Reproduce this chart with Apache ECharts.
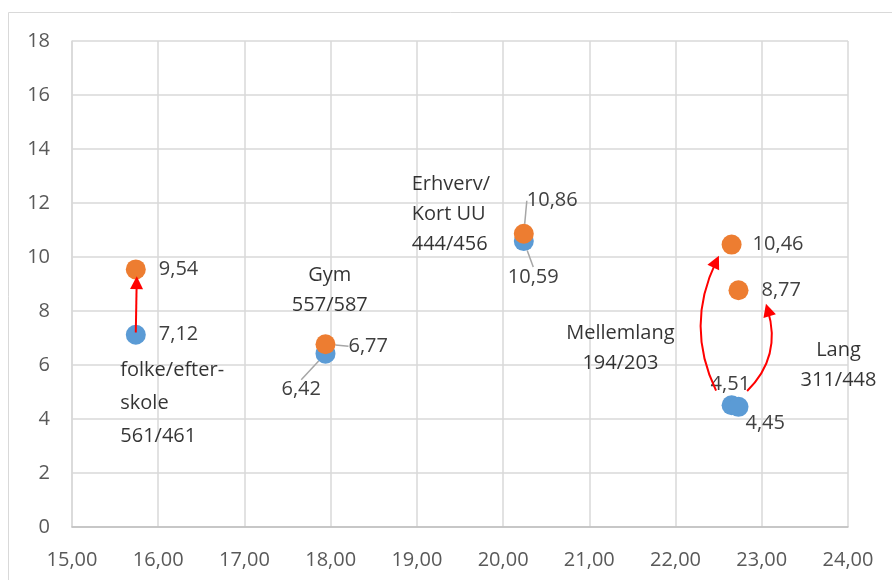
<!DOCTYPE html>
<html>
<head>
<meta charset="utf-8">
<script src="https://cdn.jsdelivr.net/npm/echarts@6/dist/echarts.min.js"></script>
<style>
  html, body { margin: 0; padding: 0; background: #fff; }
  #chart { width: 892px; height: 580px; }
</style>
</head>
<body>
<div id="chart"></div>
<script>
// uddannelsesgrupper (x = fælles x-værdi)
const groups = ['folke/efter-\nskole\n561/461', 'Gym\n557/587', 'Erhverv/\nKort UU\n444/456', 'Mellemlang\n194/203', 'Lang\n311/448']
const xVals = [15.74, 17.94, 20.24, 22.65, 22.73]
const blueY = [7.12, 6.42, 10.59, 4.51, 4.45]
const orangeY = [9.54, 6.77, 10.86, 10.46, 8.77]

// hvor gruppenavnene står (data-enheder)
const groupLabelPos = [[15.56, 4.6], [17.99, 8.75], [18.94, 11.6], [21.36, 6.62], [23.89, 6.0]]
const groupLabelAlign = ['left', 'center', 'left', 'center', 'center']

// røde pile: fra -> til (data-enheder) og krumning
const arrowFrom = [[15.74, 7.2], [22.47, 5.05], [22.83, 5.04]]
const arrowTo = [[15.75, 9.05], [22.47, 9.83], [23.07, 8.04]]
const arrowCurve = [0, 0.24, -0.3]

// label forskydning (px) og om der skal være en hjælpelinje
const blueShift = [[0, 0], [-67, 36], [-39, 36], [-44, -21], [-16, 16]]
const blueLine = [false, true, true, false, false]
const orangeShift = [[0, 0], [0, 2], [-20, -33], [-2, 0], [0, 0]]
const orangeLine = [false, true, true, false, false]

const fmt = v => v.toFixed(2).replace('.', ',')
const chart = echarts.init(document.getElementById('chart'))

const dataLabel = {
  show: true,
  position: 'right',
  distance: 13,
  color: '#404040',
  fontSize: 20,
  fontFamily: 'Open Sans',
  formatter: p => fmt(p.value[1])
}

const pointData = (ys, lines) => xVals.map((x, i) => ({
  value: [x, ys[i]],
  labelLine: { show: lines[i] }
}))

chart.setOption({
  animation: false,
  graphic: [{
    type: 'rect',
    shape: { x: 8.5, y: 12.5, width: 900, height: 600 },
    style: { fill: 'none', stroke: '#d9d9d9', lineWidth: 1 },
    silent: true
  }],
  grid: { left: 72, right: 44, top: 41, bottom: 53 },
  xAxis: {
    type: 'value',
    min: 15,
    max: 24,
    interval: 1,
    axisLine: { show: true, lineStyle: { color: '#bfbfbf', width: 1.5 } },
    axisTick: { show: false },
    splitLine: { lineStyle: { color: '#d9d9d9', width: 1.5 } },
    axisLabel: {
      margin: 23,
      color: '#595959',
      fontSize: 20,
      fontFamily: 'Open Sans',
      formatter: v => fmt(v)
    }
  },
  yAxis: {
    type: 'value',
    min: 0,
    max: 18,
    interval: 2,
    axisLine: { show: true, lineStyle: { color: '#d9d9d9', width: 1.5 } },
    axisTick: { show: false },
    splitLine: { lineStyle: { color: '#d9d9d9', width: 1.5 } },
    axisLabel: {
      margin: 22,
      color: '#595959',
      fontSize: 20,
      fontFamily: 'Open Sans'
    }
  },
  series: [
    {
      name: 'før',
      type: 'scatter',
      symbolSize: 20,
      itemStyle: { color: '#5b9bd5', opacity: 1 },
      data: pointData(blueY, blueLine),
      label: dataLabel,
      labelLine: { lineStyle: { color: '#a6a6a6', width: 1.5 } },
      labelLayout: p => ({ dx: blueShift[p.dataIndex][0], dy: blueShift[p.dataIndex][1] })
    },
    {
      name: 'efter',
      type: 'scatter',
      symbolSize: 20,
      itemStyle: { color: '#ed7d31', opacity: 1 },
      data: pointData(orangeY, orangeLine),
      label: dataLabel,
      labelLine: { lineStyle: { color: '#a6a6a6', width: 1.5 } },
      labelLayout: p => ({ dx: orangeShift[p.dataIndex][0], dy: orangeShift[p.dataIndex][1] })
    },
    {
      name: 'grupper',
      type: 'scatter',
      symbolSize: 0,
      silent: true,
      data: groupLabelPos.map((pos, i) => ({
        value: pos,
        label: {
          align: groupLabelAlign[i],
          lineHeight: i === 0 ? 33 : 30
        }
      })),
      label: {
        show: true,
        position: 'inside',
        color: '#000',
        fontSize: 20,
        fontFamily: 'Open Sans',
        formatter: p => groups[p.dataIndex]
      }
    },
    {
      name: 'pile',
      type: 'lines',
      coordinateSystem: 'cartesian2d',
      silent: true,
      z: 5,
      symbol: ['none', 'triangle'],
      symbolSize: 13,
      lineStyle: { color: '#ff0000', width: 2, opacity: 1 },
      data: arrowFrom.map((f, i) => ({
        coords: [f, arrowTo[i]],
        lineStyle: { curveness: arrowCurve[i] }
      }))
    }
  ]
})
</script>
</body>
</html>
